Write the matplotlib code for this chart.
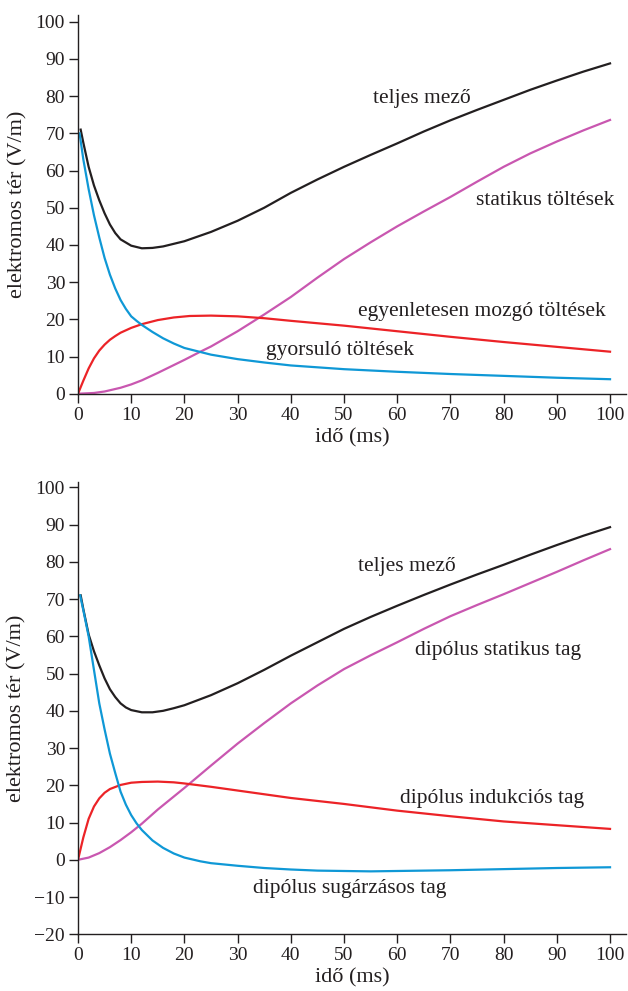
import matplotlib
matplotlib.use("Agg")
import matplotlib.pyplot as plt

plt.rcParams['font.family'] = ['Liberation Serif', 'DejaVu Serif']

# felső ábra: pontszerű töltések
t_teljes1 = [0.5, 1, 2, 3, 4, 5, 6, 7, 8, 10, 12, 14, 16, 18, 20, 25, 30, 35, 40, 45, 50, 55, 60, 65, 70, 75, 80, 85, 90, 95, 100]
E_teljes1 = [71, 67.5, 61, 56, 52, 48.5, 45.5, 43.2, 41.5, 39.8, 39.1, 39.2, 39.6, 40.3, 41, 43.5, 46.5, 50, 54, 57.6, 61, 64.2, 67.3, 70.5, 73.5, 76.3, 79, 81.7, 84.2, 86.6, 88.8]

t_stat1 = [0, 3, 5, 8, 10, 12, 15, 18, 20, 23, 25, 30, 35, 40, 45, 50, 55, 60, 65, 70, 75, 80, 85, 90, 95, 100]
E_stat1 = [0, 0.2, 0.6, 1.6, 2.5, 3.6, 5.6, 7.7, 9.1, 11.3, 12.7, 16.8, 21.3, 26, 31.2, 36.2, 40.7, 45, 49, 52.9, 57, 61, 64.6, 67.8, 70.8, 73.6]

t_egyen1 = [0, 1, 2, 3, 4, 5, 6, 7, 8, 10, 12, 15, 18, 21, 25, 30, 35, 40, 50, 60, 70, 80, 90, 100]
E_egyen1 = [0, 3.5, 6.8, 9.5, 11.6, 13.2, 14.5, 15.5, 16.4, 17.7, 18.7, 19.8, 20.5, 20.9, 21.0, 20.8, 20.3, 19.6, 18.3, 16.8, 15.3, 13.9, 12.6, 11.3]

t_gyors1 = [0.3, 1, 2, 3, 4, 5, 6, 7, 8, 9, 10, 11, 12, 14, 16, 18, 20, 25, 30, 35, 40, 50, 60, 70, 80, 90, 100]
E_gyors1 = [70, 63, 55, 48, 42, 36.5, 32, 28.3, 25.2, 22.8, 20.8, 19.6, 18.5, 16.6, 14.9, 13.5, 12.3, 10.5, 9.3, 8.4, 7.6, 6.6, 5.9, 5.3, 4.8, 4.3, 3.9]

# alsó ábra: dipólus
t_teljes2 = [0.5, 1, 2, 3, 4, 5, 6, 7, 8, 9, 10, 12, 14, 16, 18, 20, 25, 30, 35, 40, 45, 50, 55, 60, 65, 70, 75, 80, 85, 90, 95, 100]
E_teljes2 = [71, 67.3, 60.5, 56, 52.2, 48.7, 45.8, 43.7, 42, 40.9, 40.2, 39.6, 39.6, 40, 40.7, 41.5, 44.2, 47.4, 51, 54.8, 58.4, 62, 65.2, 68.2, 71.1, 73.9, 76.6, 79.2, 81.9, 84.5, 87, 89.3]

t_stat2 = [0, 2, 4, 6, 8, 10, 12, 15, 20, 25, 30, 35, 40, 45, 50, 55, 60, 65, 70, 75, 80, 85, 90, 95, 100]
E_stat2 = [0, 0.6, 1.8, 3.4, 5.3, 7.4, 9.7, 13.5, 19.3, 25.3, 31.2, 36.7, 42, 46.8, 51.2, 54.9, 58.4, 62, 65.4, 68.4, 71.3, 74.3, 77.3, 80.4, 83.4]

t_ind2 = [0, 1, 2, 3, 4, 5, 6, 8, 10, 12, 15, 18, 20, 25, 30, 35, 40, 45, 50, 60, 70, 80, 90, 100]
E_ind2 = [0, 6, 11, 14.3, 16.5, 18, 19, 20.1, 20.7, 20.9, 21, 20.8, 20.5, 19.6, 18.6, 17.6, 16.6, 15.8, 15, 13.2, 11.7, 10.3, 9.3, 8.3]

t_sug2 = [0.4, 1, 2, 3, 4, 5, 6, 7, 8, 9, 10, 11, 12, 14, 16, 18, 20, 23, 25, 30, 35, 40, 45, 50, 55, 60, 70, 80, 90, 100]
E_sug2 = [71, 67, 60, 51, 42, 35, 28.5, 23.3, 18.3, 14.8, 12, 9.8, 8, 5.2, 3.2, 1.7, 0.6, -0.4, -0.9, -1.6, -2.2, -2.6, -2.9, -3.0, -3.1, -3.0, -2.8, -2.5, -2.2, -2.0]

black = '#231f20'
magenta = '#c957b0'
red = '#ec2327'
blue = '#0f98d6'

fig = plt.figure(figsize=(6.28, 9.91), dpi=100)
ax1 = fig.add_axes([0.1242, 0.6027, 0.8726, 0.3821])
ax2 = fig.add_axes([0.1242, 0.0572, 0.8726, 0.4567])

def style_axes(ax, ymin, ymax):
    ax.set_xlim(0, 103)
    ax.set_ylim(ymin, ymax)
    ax.spines['top'].set_visible(False)
    ax.spines['right'].set_visible(False)
    for s in ('left', 'bottom'):
        ax.spines[s].set_linewidth(1.0)
        ax.spines[s].set_color(black)
    ax.set_xticks(range(0, 101, 10))
    ax.set_yticks(range(int(ymin), 101, 10))
    ax.tick_params(direction='out', length=6.3, width=1.0, colors=black,
                   labelsize=14, pad=3)
    ax.set_xlabel('idő (ms)', fontsize=16, color=black, labelpad=3)
    ax.set_ylabel('elektromos tér (V/m)', fontsize=16, color=black, labelpad=6)

lw = 1.6
ax1.plot(t_teljes1, E_teljes1, color=black, lw=lw)
ax1.plot(t_stat1, E_stat1, color=magenta, lw=lw)
ax1.plot(t_egyen1, E_egyen1, color=red, lw=lw)
ax1.plot(t_gyors1, E_gyors1, color=blue, lw=lw)
style_axes(ax1, 0, 101.8)

fs = 15.5
ax1.text(64.7, 79.5, 'teljes mező', fontsize=fs, ha='center', va='center', color=black)
ax1.text(87.8, 52, 'statikus töltések', fontsize=fs, ha='center', va='center', color=black)
ax1.text(76, 22.2, 'egyenletesen mozgó töltések', fontsize=fs, ha='center', va='center', color=black)
ax1.text(49.2, 11.7, 'gyorsuló töltések', fontsize=fs, ha='center', va='center', color=black)

ax2.plot(t_teljes2, E_teljes2, color=black, lw=lw)
ax2.plot(t_stat2, E_stat2, color=magenta, lw=lw)
ax2.plot(t_ind2, E_ind2, color=red, lw=lw)
ax2.plot(t_sug2, E_sug2, color=blue, lw=lw)
style_axes(ax2, -20, 101.5)

ax2.text(61.8, 78.7, 'teljes mező', fontsize=fs, ha='center', va='center', color=black)
ax2.text(78.9, 56.3, 'dipólus statikus tag', fontsize=fs, ha='center', va='center', color=black)
ax2.text(77.9, 16.5, 'dipólus indukciós tag', fontsize=fs, ha='center', va='center', color=black)
ax2.text(51.1, -7.7, 'dipólus sugárzásos tag', fontsize=fs, ha='center', va='center', color=black)

fig.savefig('out.png', dpi=100)
